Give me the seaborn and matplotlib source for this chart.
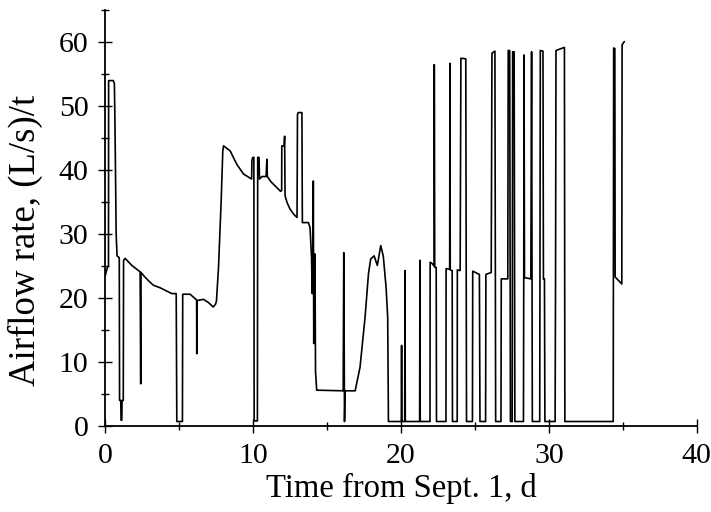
import matplotlib
matplotlib.use("Agg")
import matplotlib.pyplot as plt
import seaborn as sns
import pandas as pd
from matplotlib.ticker import MultipleLocator

# Time from Sept. 1 (days) and airflow rate ((L/s)/t), traced in order
days = [
    0.00, 0.08, 0.15, 0.22, 0.23, 0.55, 0.62, 0.66, 0.70, 0.74, 0.80, 0.95,
    0.97, 1.05, 1.07, 1.12, 1.14, 1.22, 1.24, 1.35, 1.80, 2.36, 2.40, 2.42,
    2.60, 2.93, 3.26, 3.72, 4.16, 4.50, 4.80, 4.84, 5.22, 5.24, 5.74, 6.08,
    6.18, 6.19, 6.21, 6.64, 6.98, 7.30, 7.45, 7.52, 7.66, 7.84, 7.95, 8.00,
    8.45, 8.90, 9.35, 9.90, 9.92, 9.98, 10.05, 10.07, 10.29, 10.31, 10.40, 10.43,
    10.60, 10.88, 10.93, 10.96, 11.20, 11.50, 11.85, 11.93, 11.94, 12.10, 12.13, 12.16,
    12.30, 12.50, 12.75, 12.97, 13.00, 13.05, 13.30, 13.33, 13.74, 13.85, 13.95, 14.00,
    14.05, 14.07, 14.10, 14.18, 14.22, 14.30, 16.09, 16.13, 16.18, 16.22, 16.90, 17.23,
    17.57, 17.80, 17.95, 18.18, 18.40, 18.63, 18.80, 18.99, 19.10, 19.15, 19.22, 20.02,
    20.04, 20.06, 20.25, 20.27, 20.29, 21.26, 21.28, 21.30, 21.96, 21.97, 22.10, 22.24,
    22.25, 22.28, 22.38, 22.40, 23.04, 23.05, 23.29, 23.31, 23.33, 23.46, 23.48, 23.80,
    23.81, 24.00, 24.05, 24.38, 24.43, 24.83, 24.85, 25.30, 25.34, 25.72, 25.74, 26.10,
    26.15, 26.35, 26.40, 26.76, 26.78, 27.22, 27.25, 27.35, 27.40, 27.52, 27.55, 27.65,
    27.70, 28.28, 28.30, 28.32, 28.35, 28.78, 28.83, 28.88, 29.38, 29.42, 29.60, 29.63,
    29.70, 29.73, 30.42, 30.45, 30.48, 31.05, 31.08, 34.35, 34.38, 34.46, 34.48, 34.93,
    34.95, 35.10,
]
airflow = [
    23.5, 24.2, 24.8, 25.0, 54.0, 54.0, 53.5, 47.0, 38.0, 30.0, 26.6, 26.3,
    4.0, 4.0, 0.9, 0.9, 4.0, 4.0, 25.9, 26.2, 25.1, 24.1, 6.6, 24.0,
    23.5, 22.7, 22.0, 21.6, 21.1, 20.7, 20.7, 0.7, 0.7, 20.6, 20.6, 19.9,
    19.7, 11.3, 19.6, 19.8, 19.3, 18.6, 19.0, 19.5, 24.8, 35.2, 43.0, 43.8,
    43.0, 40.9, 39.4, 38.6, 41.5, 42.0, 42.0, 0.8, 0.8, 42.0, 42.0, 38.6,
    39.0, 39.0, 41.7, 39.0, 38.2, 37.5, 36.7, 36.8, 43.8, 43.8, 45.3, 36.0,
    34.9, 33.9, 33.1, 32.6, 48.7, 49.0, 49.0, 31.8, 31.8, 31.0, 26.4, 20.7,
    26.0, 38.3, 12.9, 26.9, 8.5, 5.6, 5.5, 27.1, 0.7, 5.5, 5.5, 9.2,
    17.0, 23.8, 26.1, 26.6, 25.1, 28.2, 26.6, 21.7, 17.0, 0.7, 0.7, 0.7,
    12.6, 0.7, 0.7, 24.3, 0.7, 0.7, 25.9, 0.7, 0.7, 25.6, 25.4, 25.0,
    56.5, 24.8, 24.8, 0.7, 0.7, 24.6, 24.5, 56.7, 24.4, 24.3, 0.7, 0.7,
    24.4, 24.3, 57.5, 57.4, 0.7, 0.7, 24.2, 23.7, 0.7, 0.7, 23.7, 24.0,
    58.3, 58.6, 0.7, 0.7, 23.0, 23.0, 58.7, 58.7, 0.7, 0.7, 58.5, 58.5,
    0.7, 0.7, 23.2, 58.0, 23.2, 23.0, 58.5, 0.7, 0.7, 58.7, 58.6, 23.0,
    23.0, 0.7, 0.7, 22.8, 58.7, 59.2, 0.7, 0.7, 59.1, 59.0, 23.3, 22.2,
    59.6, 60.1,
]
x_ticks = [0, 10, 20, 30, 40]
y_ticks = [0, 10, 20, 30, 40, 50, 60]

df = pd.DataFrame({"day": days, "flow": airflow})

sns.set_theme(style="ticks")
plt.rcParams["font.family"] = ["Liberation Serif", "DejaVu Serif"]

fig = plt.figure(figsize=(7.11, 5.12), dpi=100)
ax = fig.add_axes([0.148, 0.168, 0.832, 0.812])

sns.lineplot(data=df, x="day", y="flow", sort=False, estimator=None,
             color="black", linewidth=1.2, ax=ax)

ax.set_xlim(0, 40)
ax.set_ylim(0, 65)
ax.set_xticks(x_ticks)
ax.set_yticks(y_ticks)
ax.xaxis.set_minor_locator(MultipleLocator(5))
ax.yaxis.set_minor_locator(MultipleLocator(5))
ax.tick_params(which="major", direction="inout", length=10, width=1.0,
               labelsize=21.5, colors="black", pad=7)
ax.tick_params(which="minor", direction="inout", length=6, width=1.0,
               colors="black")
for s in ["top", "right"]:
    ax.spines[s].set_visible(False)
for s in ["left", "bottom"]:
    ax.spines[s].set_linewidth(1.3)
    ax.spines[s].set_color("black")

ax.set_xlabel("Time from Sept. 1, d", fontsize=23.5, color="black", labelpad=3)
ax.set_ylabel("Airflow rate, (L/s)/t", fontsize=26.5, color="black",
              va="top")
ax.yaxis.set_label_coords(-0.165, 0.447)

fig.savefig("out.png", dpi=100)
